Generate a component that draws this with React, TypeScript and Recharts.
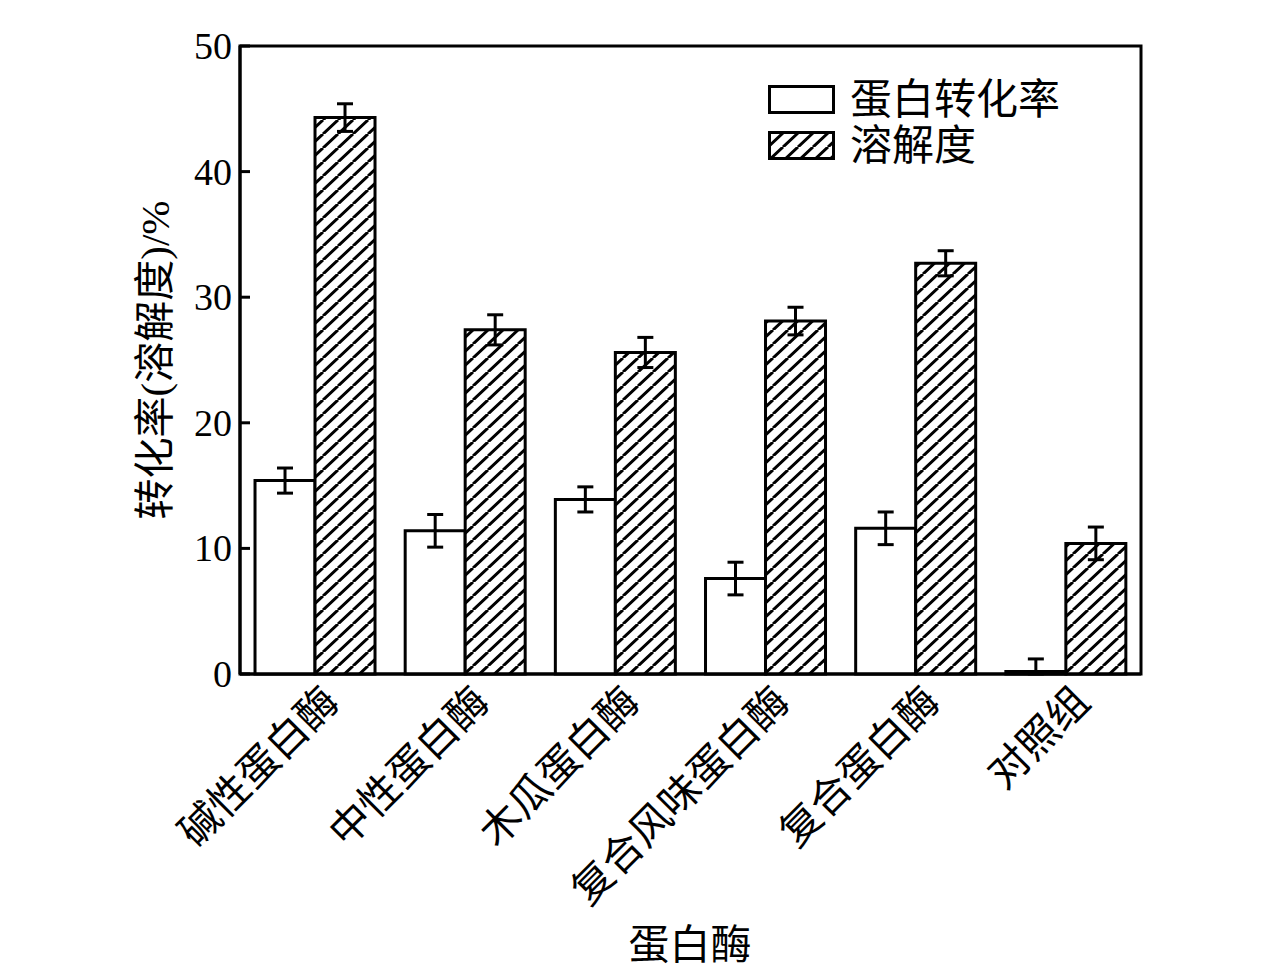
import React from "react";
import { Bar, BarChart, ErrorBar, Label, ReferenceArea, XAxis, YAxis } from "recharts";

const categories = ["碱性蛋白酶", "中性蛋白酶", "木瓜蛋白酶", "复合风味蛋白酶", "复合蛋白酶", "对照组"];
const conversion = [15.4, 11.4, 13.9, 7.6, 11.6, 0.2];
const conversionErr: (number | number[])[] = [1.0, 1.3, 1.0, 1.3, 1.3, [0.2, 1.0]];
const solubility = [44.3, 27.4, 25.6, 28.1, 32.7, 10.4];
const solubilityErr = [1.1, 1.2, 1.2, 1.1, 1.0, 1.3];
const yTicks = [0, 10, 20, 30, 40, 50];

const seriesNames = ["蛋白转化率", "溶解度"];

const data = categories.map((name, i) => ({
  name,
  conv: conversion[i],
  convErr: conversionErr[i],
  sol: solubility[i],
  solErr: solubilityErr[i],
}));

const FONT = "'Liberation Serif', 'Noto Sans CJK SC', serif";

function YTick(props: any) {
  const { x, y, payload } = props;
  return (
    <g>
      <line x1={x} y1={y} x2={x + 10} y2={y} stroke="#000" strokeWidth={3} />
      <text x={x - 8} y={y} dy={13} textAnchor="end" fontSize={38} fontFamily={FONT} fill="#000">
        {payload.value}
      </text>
    </g>
  );
}

function XTick(props: any) {
  const { x, y, payload } = props;
  const ax = x + 26;
  const ay = y + 30;
  return (
    <text
      x={ax}
      y={ay}
      textAnchor="end"
      fontSize={41}
      fontFamily={FONT}
      fill="#000"
      transform={`rotate(-45 ${ax} ${ay})`}
    >
      {payload.value}
    </text>
  );
}

function LegendBox() {
  return (
    <svg width={320} height={100} style={{ position: "absolute", left: 760, top: 69 }}>
      <rect x={1.5} y={9.5} width={64} height={26} fill="#fff" stroke="#000" strokeWidth={3} />
      <text x={82} y={37} fontSize={42} fontFamily={FONT} fill="#000">
        {seriesNames[0]}
      </text>
      <rect x={1.5} y={55.5} width={64} height={26} fill="url(#hatch)" stroke="#000" strokeWidth={3} />
      <text x={82} y={83} fontSize={42} fontFamily={FONT} fill="#000">
        {seriesNames[1]}
      </text>
    </svg>
  );
}

export default function App() {
  return (
    <div style={{ position: "relative", width: 1260, height: 965 }}>
      <BarChart
        width={1260}
        height={965}
        data={data}
        margin={{ top: 38, right: 127, bottom: 49, left: 152 }}
        barCategoryGap="10%"
        barGap={0}
      >
        <defs>
          <pattern id="hatch" patternUnits="userSpaceOnUse" width={15} height={14}>
            <rect width={15} height={14} fill="#fff" />
            <path d="M-15,14 L0,0 M0,14 L15,0 M15,14 L30,0" stroke="#000" strokeWidth={3} />
          </pattern>
        </defs>
        <XAxis
          dataKey="name"
          height={250}
          interval={0}
          tickLine={false}
          tickSize={0}
          tickMargin={0}
          tick={<XTick />}
          axisLine={{ stroke: "#000", strokeWidth: 3 }}
        >
          <Label
            content={() => (
              <text x={682} y={951} textAnchor="middle" fontSize={41} fontFamily={FONT} fill="#000">
                蛋白酶
              </text>
            )}
          />
        </XAxis>
        <YAxis
          width={80}
          domain={[0, 50]}
          ticks={yTicks}
          interval={0}
          tickLine={false}
          tickSize={0}
          tickMargin={0}
          tick={<YTick />}
          axisLine={{ stroke: "#000", strokeWidth: 3 }}
        >
          <Label
            content={() => (
              <text
                x={147}
                y={352}
                textAnchor="middle"
                dominantBaseline="central"
                fontSize={41}
                fontFamily={FONT}
                fill="#000"
                transform="rotate(-90 147 352)"
              >
                转化率(溶解度)/%
              </text>
            )}
          />
        </YAxis>
        <ReferenceArea
          x1={categories[0]}
          x2={categories[categories.length - 1]}
          y1={0}
          y2={50}
          fill="none"
          fillOpacity={0}
          stroke="#000"
          strokeWidth={3}
        />
        <Bar dataKey="conv" name={seriesNames[0]} fill="#fff" stroke="#000" strokeWidth={3} isAnimationActive={false}>
          <ErrorBar dataKey="convErr" direction="y" width={8} stroke="#000" strokeWidth={3} />
        </Bar>
        <Bar dataKey="sol" name={seriesNames[1]} fill="url(#hatch)" stroke="#000" strokeWidth={3} isAnimationActive={false}>
          <ErrorBar dataKey="solErr" direction="y" width={8} stroke="#000" strokeWidth={3} />
        </Bar>
      </BarChart>
      <LegendBox />
    </div>
  );
}
